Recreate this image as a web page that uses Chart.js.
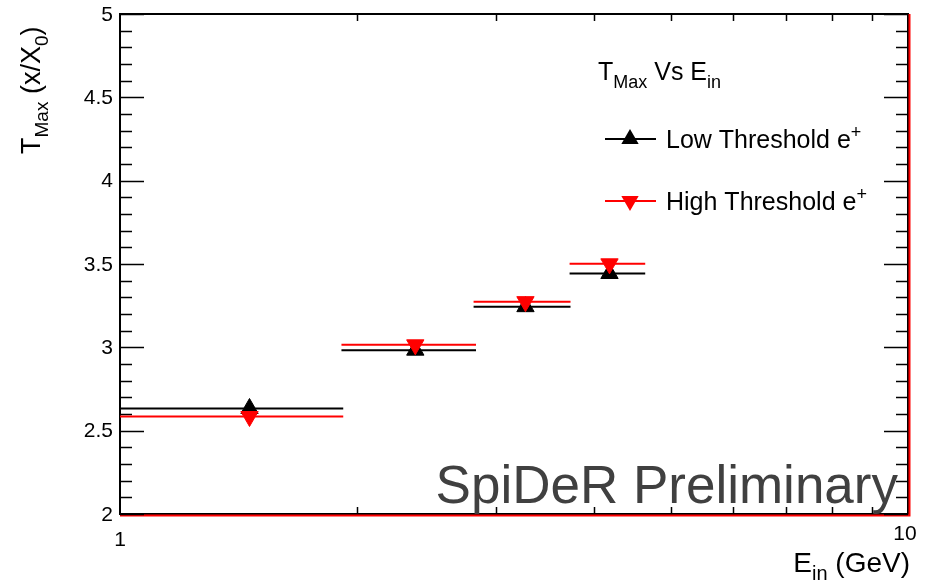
<!DOCTYPE html>
<html>
<head>
<meta charset="utf-8">
<script src="https://cdn.jsdelivr.net/npm/chart.js@4.4.0/dist/chart.umd.min.js"></script>
<style>
  html, body { margin: 0; padding: 0; background: #fff; }
  canvas { display: block; }
</style>
</head>
<body>
<canvas id="myChart" width="935" height="582"></canvas>
<script>
// bin centres (GeV) and half widths of the energy bins
const energies = [1.46, 2.37, 3.27, 4.18];
const energyErr = [0.46, 0.46, 0.46, 0.46];
// shower maximum (x/X0)
const lowThreshold = [2.633, 2.983, 3.244, 3.443];
const highThreshold = [2.585, 3.015, 3.274, 3.501];

const yMajorTicks = [2, 2.5, 3, 3.5, 4, 4.5, 5];
const yMinorTicks = [2.1, 2.2, 2.3, 2.4, 2.6, 2.7, 2.8, 2.9, 3.1, 3.2, 3.3, 3.4, 3.6, 3.7, 3.8, 3.9, 4.1, 4.2, 4.3, 4.4, 4.6, 4.7, 4.8, 4.9];
const xMinorTicks = [2, 3, 4, 5, 6, 7, 8, 9];
const xTickLabels = [1, 10];

const FONT = '"Liberation Sans", Arial, sans-serif';

// text with sub / superscripts: parts = [[text, 'n' | 'sub' | 'sup'], ...]
const drawRich = (ctx, parts, x, y, size, align) => {
  const fontFor = (k) => (k === "n" ? size : Math.round(size * 0.7)) + "px " + FONT;
  let total = 0;
  parts.forEach(([t, k]) => {
    ctx.font = fontFor(k);
    total += ctx.measureText(t).width;
  });
  let cx = align === "right" ? x - total : x;
  ctx.textAlign = "left";
  ctx.textBaseline = "alphabetic";
  parts.forEach(([t, k]) => {
    ctx.font = fontFor(k);
    const dy = k === "sub" ? size * 0.3 : k === "sup" ? -size * 0.4 : 0;
    ctx.fillText(t, cx, y + dy);
    cx += ctx.measureText(t).width;
  });
};

const rootFrame = {
  id: "rootFrame",
  beforeDatasetsDraw(chart) {
    const { ctx, chartArea: a, scales } = chart;
    const xs = scales.x;
    const ys = scales.y;
    ctx.save();

    // frame
    ctx.strokeStyle = "#000";
    ctx.lineWidth = 2;
    ctx.strokeRect(a.left, a.top, a.right - a.left, a.bottom - a.top);
    ctx.strokeStyle = "#ff0000";
    ctx.beginPath();
    ctx.moveTo(a.left, a.bottom + 1.5);
    ctx.lineTo(a.right + 1.5, a.bottom + 1.5);
    ctx.lineTo(a.right + 1.5, a.top);
    ctx.stroke();

    // ticks, inside the frame
    ctx.strokeStyle = "#000";
    ctx.lineWidth = 1.5;
    ctx.beginPath();
    yMajorTicks.forEach((v) => {
      const py = Math.round(ys.getPixelForValue(v)) + 0.5;
      ctx.moveTo(a.left, py); ctx.lineTo(a.left + 24, py);
      ctx.moveTo(a.right, py); ctx.lineTo(a.right - 24, py);
    });
    yMinorTicks.forEach((v) => {
      const py = Math.round(ys.getPixelForValue(v)) + 0.5;
      ctx.moveTo(a.left, py); ctx.lineTo(a.left + 12, py);
      ctx.moveTo(a.right, py); ctx.lineTo(a.right - 12, py);
    });
    xMinorTicks.forEach((v) => {
      const px = Math.round(xs.getPixelForValue(v)) + 0.5;
      ctx.moveTo(px, a.bottom); ctx.lineTo(px, a.bottom - 7);
      ctx.moveTo(px, a.top); ctx.lineTo(px, a.top + 7);
    });
    ctx.stroke();

    // horizontal error bars (bin widths)
    chart.data.datasets.forEach((ds, i) => {
      const meta = chart.getDatasetMeta(i);
      ctx.strokeStyle = ds.borderColor;
      ctx.lineWidth = 2;
      ctx.beginPath();
      ds.data.forEach((p, j) => {
        const py = meta.data[j].y;
        ctx.moveTo(xs.getPixelForValue(p.x - ds.xErr[j]), py);
        ctx.lineTo(xs.getPixelForValue(p.x + ds.xErr[j]), py);
      });
      ctx.stroke();
    });
    ctx.restore();
  },
  afterDraw(chart) {
    const { ctx, chartArea: a, scales } = chart;
    const ys = scales.y;
    const xs = scales.x;
    ctx.save();
    ctx.fillStyle = "#000";

    // y tick labels
    ctx.font = "21px " + FONT;
    ctx.textAlign = "right";
    ctx.textBaseline = "middle";
    yMajorTicks.forEach((v) => {
      ctx.fillText(String(v), a.left - 7, ys.getPixelForValue(v) + 1);
    });
    // x tick labels
    ctx.textAlign = "center";
    ctx.fillText(String(xTickLabels[0]), xs.getPixelForValue(xTickLabels[0]), a.bottom + 26);
    ctx.fillText(String(xTickLabels[1]), xs.getPixelForValue(xTickLabels[1]) - 3, a.bottom + 20);

    // axis titles
    drawRich(ctx, [["E", "n"], ["in", "sub"], [" (GeV)", "n"]], 910, 572, 28, "right");
    ctx.save();
    ctx.translate(40, 154);
    ctx.rotate(-Math.PI / 2);
    drawRich(ctx, [["T", "n"], ["Max", "sub"], [" (x/X", "n"], ["0", "sub"], [")", "n"]], 0, 0, 27, "left");
    ctx.restore();

    // legend
    drawRich(ctx, [["T", "n"], ["Max", "sub"], [" Vs E", "n"], ["in", "sub"]], 598, 80, 25, "left");
    const entries = [
      { ds: chart.data.datasets[0], y: 139 },
      { ds: chart.data.datasets[1], y: 201 },
    ];
    entries.forEach((e) => {
      ctx.strokeStyle = e.ds.borderColor;
      ctx.fillStyle = e.ds.backgroundColor;
      ctx.lineWidth = 2;
      ctx.beginPath();
      ctx.moveTo(605, e.y); ctx.lineTo(656, e.y);
      ctx.stroke();
      Chart.helpers.drawPoint(ctx, {
        pointStyle: "triangle",
        radius: 8,
        rotation: e.ds.pointRotation || 0,
        borderWidth: 1,
      }, 630, e.y);
      ctx.fillStyle = "#000";
      drawRich(ctx, [[e.ds.label, "n"], ["+", "sup"]], 666, e.y + 9, 25, "left");
    });

    // watermark
    ctx.fillStyle = "#404040";
    ctx.font = "53px " + FONT;
    ctx.textAlign = "right";
    ctx.textBaseline = "alphabetic";
    ctx.fillText("SpiDeR Preliminary", 898, 503);
    ctx.restore();
  },
};

const config = {
  type: "scatter",
  data: {
    datasets: [
      {
        label: "Low Threshold e",
        data: energies.map((e, i) => ({ x: e, y: lowThreshold[i] })),
        xErr: energyErr,
        pointStyle: "triangle",
        pointRadius: 10,
        pointBorderWidth: 1,
        backgroundColor: "#000000",
        borderColor: "#000000",
        order: 1,
      },
      {
        label: "High Threshold e",
        data: energies.map((e, i) => ({ x: e, y: highThreshold[i] })),
        xErr: energyErr,
        pointStyle: "triangle",
        pointRotation: 180,
        pointRadius: 10,
        pointBorderWidth: 1,
        backgroundColor: "#ff0000",
        borderColor: "#ff0000",
        order: 0,
      },
    ],
  },
  options: {
    responsive: false,
    animation: false,
    layout: {
      padding: { left: 120, right: 27, top: 14, bottom: 68 },
    },
    plugins: {
      legend: { display: false },
      tooltip: { enabled: false },
    },
    scales: {
      x: { type: "logarithmic", min: 1, max: 10, display: false },
      y: { type: "linear", min: 2, max: 5, display: false },
    },
  },
  plugins: [rootFrame],
};

const ctx = document.getElementById("myChart").getContext("2d");
const myChart = new Chart(ctx, config);
</script>
</body>
</html>
